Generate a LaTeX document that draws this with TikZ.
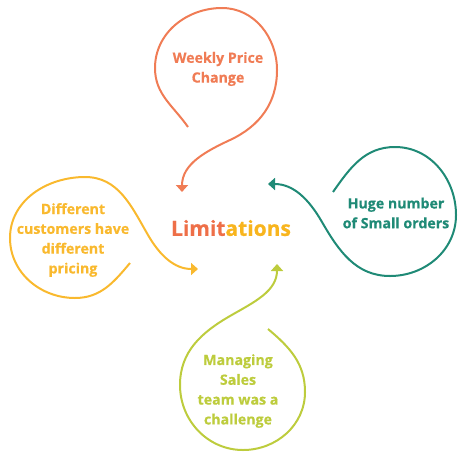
\documentclass[tikz,border=0pt]{standalone}
\usepackage{fontspec}
\setmainfont{Open Sans}[BoldFeatures={FakeBold=0.5}]
\usetikzlibrary{arrows.meta}
\definecolor{corange}{HTML}{F07C55}
\definecolor{cteal}{HTML}{1F8A76}
\definecolor{cyellow}{HTML}{F9B92E}
\definecolor{clime}{HTML}{BDCC3D}
\definecolor{climA}{HTML}{EE6F48}
\definecolor{climB}{HTML}{F8B51E}
\tikzset{
  loop/.style={line width=2pt, -{Triangle[length=7pt,width=12pt]}},
  lbl/.style={font=\fontsize{14.2}{19.8}\selectfont\bfseries, align=center, inner sep=0pt}
}
\begin{document}
\begin{tikzpicture}[x=1pt,y=1pt]
\useasboundingbox (0,0) rectangle (462,-455);
% centre
\node (lim) [font=\fontsize{21}{24}\selectfont\bfseries, inner sep=0pt] at (231,-228) {\textcolor{climA}{Limit}\textcolor{climB}{ations}};
% top
\node (t1) [lbl, text=corange] at (218,-69) {Weekly Price\\Change};
\coordinate (a1) at (188,-127);
\coordinate (a2) at (155,-68);
\coordinate (a3) at (222,-8);
\coordinate (a4) at (277,-70);
\coordinate (a5) at (230,-140);
\coordinate (a6) at (182,-192);
\draw[loop, corange] (a1) to[out=125,in=270] (a2) to[out=90,in=180] (a3) to[out=0,in=90] (a4) to[out=270,in=25] (a5) to[out=205,in=90] (a6);
% right
\node (t2) [lbl, text=cteal] at (396,-213) {Huge number\\of Small orders};
\coordinate (b1) at (333,-192);
\coordinate (b2) at (395,-147);
\coordinate (b3) at (456,-215);
\coordinate (b4) at (390,-276);
\coordinate (b5) at (322,-222);
\coordinate (b6) at (268,-184);
\draw[loop, cteal] (b1) to[out=55,in=180] (b2) to[out=0,in=90] (b3) to[out=270,in=0] (b4) to[out=180,in=300] (b5) to[out=120,in=0] (b6);
% left
\node (t3) [lbl, text=cyellow] at (73,-240) {Different\\customers have\\different\\pricing};
\coordinate (c1) at (130,-263);
\coordinate (c2) at (75,-298);
\coordinate (c3) at (10,-238);
\coordinate (c4) at (85,-177);
\coordinate (c5) at (148,-235);
\coordinate (c6) at (198,-269);
\draw[loop, cyellow] (c1) to[out=230,in=0] (c2) to[out=180,in=270] (c3) to[out=90,in=180] (c4) to[out=0,in=120] (c5) to[out=300,in=180] (c6);
% bottom
\node (t4) [lbl, text=clime] at (238,-391) {Managing\\Sales\\team was a\\challenge};
\coordinate (d1) at (268,-329);
\coordinate (d2) at (305,-392);
\coordinate (d3) at (243,-450);
\coordinate (d4) at (180,-385);
\coordinate (d5) at (230,-316);
\coordinate (d6) at (277,-264);
\draw[loop, clime] (d1) to[out=-40,in=90] (d2) to[out=270,in=0] (d3) to[out=180,in=270] (d4) to[out=90,in=210] (d5) to[out=30,in=270] (d6);
\end{tikzpicture}
\end{document}
